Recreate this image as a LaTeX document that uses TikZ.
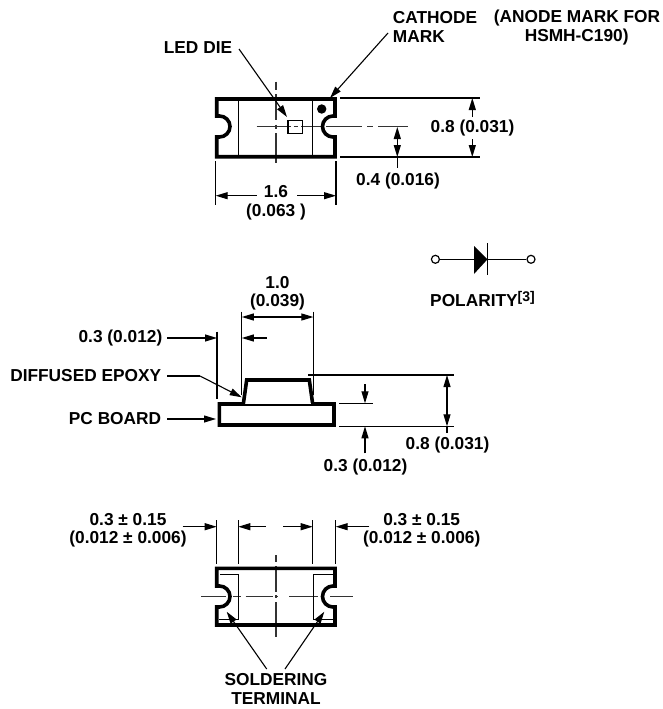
\documentclass[tikz,border=0pt]{standalone}
\usepackage{fontspec}
\setmainfont{Liberation Sans}
\usetikzlibrary{arrows.meta}
\tikzset{
  x=1pt,y=-1pt,
  body/.style={line width=3.6pt,miter limit=10,line join=miter},
  thinl/.style={line width=1.1pt},
  center/.style={line width=1.1pt,black!80},
  dim/.style={line width=1.1pt,-{Triangle[length=12pt,width=7pt]}},
  dimboth/.style={line width=1.1pt,{Triangle[length=12pt,width=7pt]}-{Triangle[length=12pt,width=7pt]}},
  lab/.style={inner sep=0pt,font=\fontsize{17.3}{20}\selectfont\bfseries,align=center},
}
\begin{document}
\begin{tikzpicture}
\useasboundingbox (0,0) rectangle (662,709);
% ---- top view
\draw[center] (256.7,126.7) -- (274.5,126.7) (277,126.7) -- (291,126.7) (293.5,126.7) -- (298,126.7) (301,126.7) -- (322,126.7) (326,126.7) -- (362,126.7) (367,126.7) -- (373,126.7) (378,126.7) -- (408,126.7);
\draw[center] (276,81.7) -- (276,90) (276,94) -- (276,120) (276,124.5) -- (276,129) (276,133) -- (276,163);
\draw[body] (216.7,99) -- (335,99) -- (335,116) -- (333,116) arc[start angle=270,end angle=90,radius=10.5] -- (335,137) -- (335,156.7) -- (216.7,156.7) -- (216.7,137) -- (219.5,137) arc[start angle=90,end angle=-90,radius=10.5] -- (216.7,116) -- cycle;
\draw[thinl] (238.3,99) -- (238.3,156.7) (312.3,99) -- (312.3,156.7);
\fill (321.7,109) circle[radius=4.7];
\draw[line width=1.2pt] (288,120.7) rectangle (302.7,133.3);
\draw[thinl] (340,98) -- (480,98) (340,157) -- (480,157);
\node[lab] (led) at (198,48) {LED DIE};
\coordinate (ledtip) at (287,117);
\draw[dim] (239,49) -- (ledtip);
\node[lab,anchor=west] (cath) at (392.7,18) {CATHODE};
\node[lab,anchor=west] (mark) at (392.7,37) {MARK};
\node[lab] (anode) at (577,18) {(ANODE MARK FOR};
\node[lab] (hsmh) at (576.7,37) {HSMH-C190)};
\coordinate (cathtip) at (330,98);
\draw[dim] (388,33) -- (cathtip);
\node[lab] (d08a) at (472.5,128) {0.8 (0.031)};
\draw[dim] (472.3,117) -- (472.3,98);
\draw[dim] (472.3,139) -- (472.3,157);
\node[lab] (d04) at (398,181) {0.4 (0.016)};
\draw[thinl] (397.3,157) -- (397.3,168);
\draw[dimboth] (397.3,127) -- (397.3,157);
\draw[thinl] (215.7,161) -- (215.7,205) (336,161) -- (336,205);
\node[lab] (d16) at (276,192) {1.6};
\node[lab] (d063) at (276,212) {(0.063 )};
\draw[dim] (256.7,195.7) -- (215.7,195.7);
\draw[dim] (297,195.7) -- (336,195.7);
% ---- polarity
\node[draw,circle,line width=1.2pt,minimum size=8pt,inner sep=0pt] (ca) at (435.4,259.3) {};
\node[draw,circle,line width=1.2pt,minimum size=8pt,inner sep=0pt] (cb) at (531,259.3) {};
\draw[line width=1.2pt] (ca) -- (cb);
\fill (474,246) -- (487.5,259.3) -- (474,274) -- cycle;
\draw[line width=1.6pt] (487.5,243.3) -- (487.5,275);
\node[lab] (pol) at (482.5,299) {POLARITY\raisebox{5pt}{\fontsize{14}{15}\selectfont [3]}};
% ---- side view
\draw[thinl] (241.8,311.7) -- (241.8,395) (313.4,311.7) -- (313.4,395);
\draw[dimboth] (241.8,317) -- (313.4,317);
\node[lab] (d10) at (277.5,282.7) {1.0};
\node[lab] (d039) at (277.5,301.7) {(0.039)};
\node[lab,anchor=east] (d03a) at (162.5,337.7) {0.3 (0.012)};
\draw[thinl] (217,331.7) -- (217,399.3);
\draw[dim] (167,338) -- (217,338);
\draw[dim] (266.8,338) -- (241.8,338);
\node[lab,anchor=east] (epoxy) at (161.4,376) {DIFFUSED EPOXY};
\coordinate (epbend) at (200,376);
\coordinate (eptip) at (241.7,397.3);
\draw[thinl] (167,376) -- (epbend);
\draw[dim] (epbend) -- (eptip);
\node[lab,anchor=east] (pcb) at (161.4,419) {PC BOARD};
\draw[dim] (167,419) -- (216,419);
\draw[body] (243.3,404) -- (219.3,404) -- (219.3,425) -- (334,425) -- (334,404) -- (312.7,404) -- (309.3,380) -- (246.7,380) -- cycle;
\draw[line width=3pt,white] (245.5,404) -- (310.5,404);
\draw[thinl] (243.3,405) -- (312.7,405);
\draw[thinl] (308,375) -- (454.3,375) (339.3,426.3) -- (454.3,426.3) (339.3,403.3) -- (373,403.3);
\draw[dim] (365,384) -- (365,403.3);
\draw[dim] (365,453.3) -- (365,426.3);
\draw[dimboth] (447,375) -- (447,426.3);
\draw[thinl] (447,426.3) -- (447,433);
\node[lab] (d08b) at (447.5,445) {0.8 (0.031)};
\node[lab] (d03b) at (365.5,466.7) {0.3 (0.012)};
% ---- bottom view
\draw[center] (201,596.7) -- (226,596.7) (233,596.7) -- (240.5,596.7) (245.7,596.7) -- (273,596.7) (274.5,596.7) -- (277.5,596.7) (289.3,596.7) -- (318,596.7) (330,596.7) -- (352.7,596.7);
\draw[center] (276,555) -- (276,561.7) (276,566) -- (276,592) (276,595) -- (276,598) (276,602) -- (276,636.7);
\draw[thinl] (220,574.7) -- (238.3,574.7) -- (238.3,619.3) -- (219,619.3);
\draw[thinl] (333,574.7) -- (313.3,574.7) -- (313.3,619.3) -- (333,619.3);
\draw[body] (216.7,568.3) -- (335,568.3) -- (335,586) -- (333,586) arc[start angle=270,end angle=90,radius=10.5] -- (335,607) -- (335,625) -- (216.7,625) -- (216.7,607) -- (219.5,607) arc[start angle=90,end angle=-90,radius=10.5] -- (216.7,586) -- cycle;
\draw[thinl] (216.7,520) -- (216.7,564) (238.3,520) -- (238.3,564) (312.7,520) -- (312.7,564) (335.7,520) -- (335.7,564);
\draw[dim] (182.7,526.7) -- (216.7,526.7);
\draw[dim] (265.7,526.7) -- (238.3,526.7);
\draw[dim] (283.3,526.7) -- (312.7,526.7);
\draw[dim] (369.3,526.7) -- (335.7,526.7);
\node[lab] (la) at (128,520) {0.3 ± 0.15};
\node[lab] (lb) at (128,539.3) {(0.012 ± 0.006)};
\node[lab] (ra) at (421.7,520) {0.3 ± 0.15};
\node[lab] (rb) at (421.7,539.3) {(0.012 ± 0.006)};
\node[lab] (sol) at (276,680) {SOLDERING};
\node[lab] (ter) at (276,699) {TERMINAL};
\coordinate (sa) at (226.7,611.7);
\coordinate (sb) at (324.3,611.7);
\draw[dim] (266.7,669) -- (sa);
\draw[dim] (285,669) -- (sb);
\end{tikzpicture}
\end{document}
